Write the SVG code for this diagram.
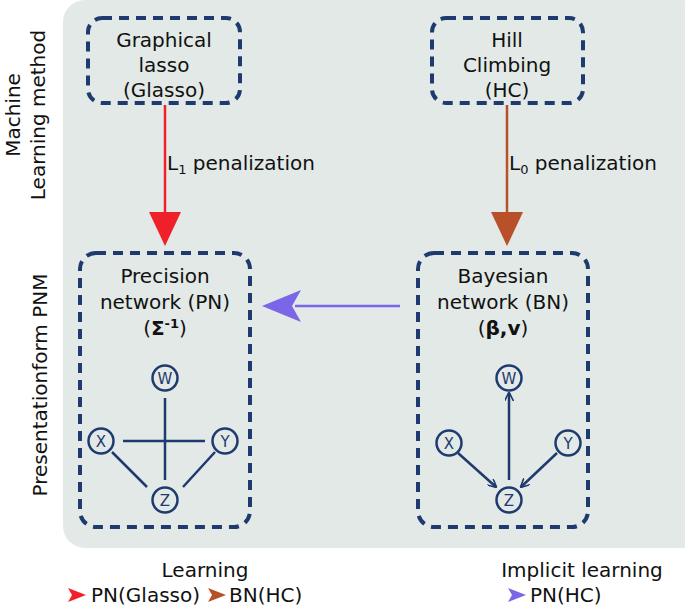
<svg xmlns="http://www.w3.org/2000/svg" width="685" height="607" viewBox="0 0 685 607">
<style>
text{font-family:"DejaVu Sans",Verdana,sans-serif;font-size:20px;fill:#111;text-anchor:middle}
.box{fill:none;stroke:#1f3a6e;stroke-width:4;stroke-dasharray:10 7}
.n{fill:none;stroke:#1f3a6e;stroke-width:2.5}
.nt{font-size:15px;fill:#1f3a6e}
.e{stroke:#1f3a6e;stroke-width:2.5;fill:none}
</style>
<defs>
<marker id="ah" viewBox="0 0 10 10" refX="9" refY="5" markerWidth="9" markerHeight="9" markerUnits="userSpaceOnUse" orient="auto"><path d="M0,0 L10,5 L0,10" fill="none" stroke="#1f3a6e" stroke-width="1.8"/></marker>
</defs>
<rect x="63" y="0" width="640" height="548" rx="22" fill="#e2e9e7"/>
<text transform="translate(20,115) rotate(-90)">Machine</text>
<text transform="translate(45,115) rotate(-90)">Learning method</text>
<text transform="translate(47,385) rotate(-90)">Presentationform PNM</text>
<g id="glasso"><rect class="box" x="88" y="18" width="152" height="85" rx="14"/>
<text x="164" y="47">Graphical</text><text x="164" y="72">lasso</text><text x="164" y="97">(Glasso)</text></g>
<g id="hc"><rect class="box" x="432" y="18" width="151" height="85" rx="14"/>
<text x="507" y="47">Hill</text><text x="507" y="72">Climbing</text><text x="507" y="97">(HC)</text></g>
<g id="pn"><rect class="box" x="80" y="253" width="170" height="274" rx="16"/>
<text x="165" y="283">Precision</text><text x="165" y="309">network (PN)</text>
<text x="165" y="335">(<tspan font-weight="bold">Σ</tspan><tspan font-size="13" dy="-7" font-weight="bold">-1</tspan><tspan dy="7">)</tspan></text>
<circle class="n" cx="165" cy="378" r="12.5"/><text class="nt" x="165" y="383.5">W</text>
<circle class="n" cx="101" cy="441" r="12.5"/><text class="nt" x="101" y="446.5">X</text>
<circle class="n" cx="225" cy="441" r="12.5"/><text class="nt" x="225" y="446.5">Y</text>
<circle class="n" cx="165" cy="500" r="12.5"/><text class="nt" x="165" y="505.5">Z</text>
<path class="e" d="M165,398 V480 M123,441 H205 M112,452 L147,487 M215,452 L183,487"/></g>
<g id="bn"><rect class="box" x="418" y="253" width="170" height="274" rx="16"/>
<text x="503" y="283">Bayesian</text><text x="503" y="309">network (BN)</text>
<text x="503" y="335" font-weight="bold"><tspan font-weight="normal">(</tspan>β,v<tspan font-weight="normal">)</tspan></text>
<circle class="n" cx="509" cy="378" r="12.5"/><text class="nt" x="509" y="383.5">W</text>
<circle class="n" cx="449" cy="443" r="12.5"/><text class="nt" x="449" y="448.5">X</text>
<circle class="n" cx="568" cy="443" r="12.5"/><text class="nt" x="568" y="448.5">Y</text>
<circle class="n" cx="509" cy="500" r="12.5"/><text class="nt" x="509" y="505.5">Z</text>
<path class="e" marker-end="url(#ah)" d="M458,453 L496,487"/>
<path class="e" marker-end="url(#ah)" d="M557,453 L521,487"/>
<path class="e" marker-end="url(#ah)" d="M509,480 V393"/></g>
<g id="connectors">
<path d="M165,105 V215" stroke="#f0202a" stroke-width="2.5"/><path d="M149,212 L181,212 L165,246 Z" fill="#f0202a"/>
<path d="M507,105 V215" stroke="#b8502a" stroke-width="2.5"/><path d="M491,212 L523,212 L507,246 Z" fill="#b8502a"/>
<path d="M400,306 H295" stroke="#7a66e6" stroke-width="2.5"/><path d="M301,290 L292,306 L301,322 L262,306 Z" fill="#7a66e6"/>
<text x="167" y="170" style="text-anchor:start">L<tspan font-size="13" dy="4">1</tspan><tspan dy="-4"> penalization</tspan></text>
<text x="509" y="170" style="text-anchor:start">L<tspan font-size="13" dy="4">0</tspan><tspan dy="-4"> penalization</tspan></text>
</g>
<text x="205" y="577">Learning</text>
<path d="M68,588 L86,595 L68,602 L72,595 Z" fill="#f0202a"/><text x="91" y="602" style="text-anchor:start">PN(Glasso)</text>
<path d="M208,588 L226,595 L208,602 L212,595 Z" fill="#b8502a"/><text x="229" y="602" style="text-anchor:start">BN(HC)</text>
<text x="582" y="577">Implicit learning</text>
<path d="M508,588 L526,595 L508,602 L512,595 Z" fill="#7a66e6"/><text x="530" y="602" style="text-anchor:start">PN(HC)</text>
</svg>
